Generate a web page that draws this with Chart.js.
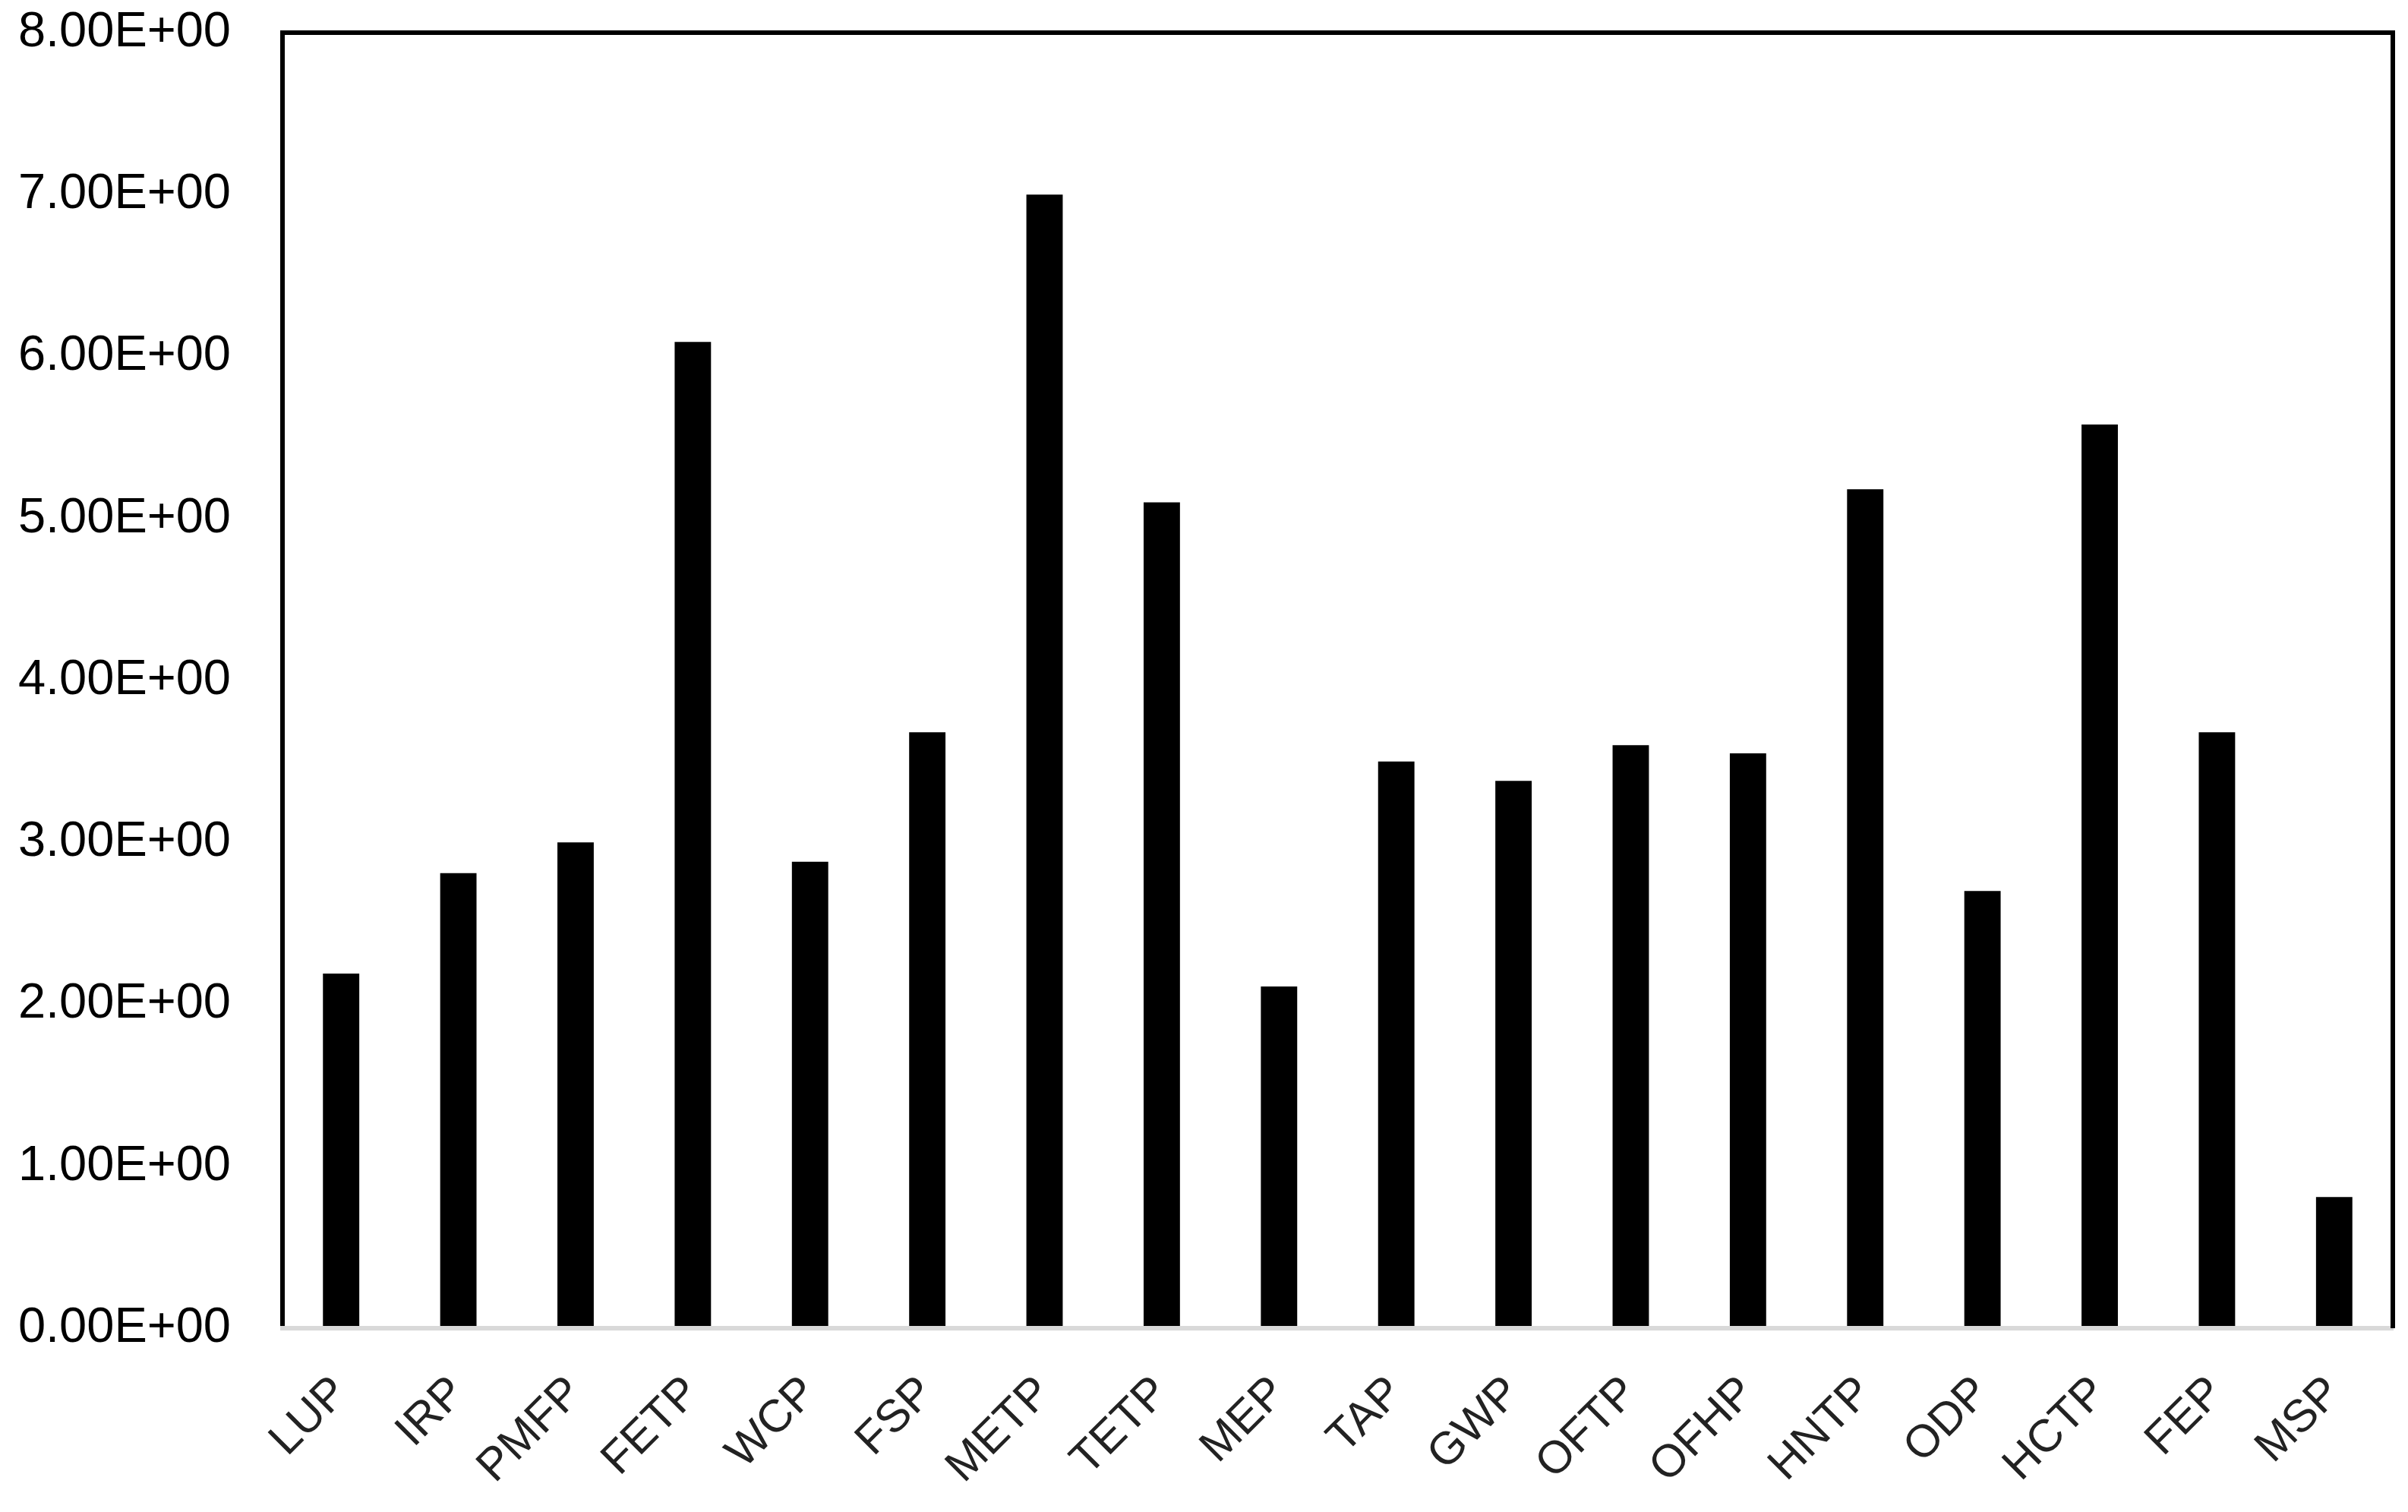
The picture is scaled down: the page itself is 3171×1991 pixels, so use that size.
<!DOCTYPE html>
<html>
<head>
<meta charset="utf-8">
<script src="https://cdn.jsdelivr.net/npm/chart.js@4.4.1/dist/chart.umd.min.js"></script>
<style>
  html, body { margin: 0; padding: 0; background: #fff; }
  #wrap { width: 3171px; height: 1991px; position: relative; }
</style>
</head>
<body>
<div id="wrap"><canvas id="chart"></canvas></div>
<script>
const categories = [
  'LUP', 'IRP', 'PMFP', 'FETP', 'WCP', 'FSP', 'METP', 'TETP', 'MEP',
  'TAP', 'GWP', 'OFTP', 'OFHP', 'HNTP', 'ODP', 'HCTP', 'FEP', 'MSP',
];
const values = [
  2.19, 2.81, 3.00, 6.09, 2.88, 3.68, 7.00, 5.10, 2.11,
  3.50, 3.38, 3.60, 3.55, 5.18, 2.70, 5.58, 3.68, 0.81,
];
const yTickLabels = [
  '0.00E+00', '1.00E+00', '2.00E+00', '3.00E+00', '4.00E+00',
  '5.00E+00', '6.00E+00', '7.00E+00', '8.00E+00',
];

const FONT = '"Liberation Sans", Arial, sans-serif';

// top and right edges of the plot frame
const framePlugin = {
  id: 'frame',
  afterDraw(chart) {
    const { ctx, chartArea: a } = chart;
    ctx.save();
    ctx.strokeStyle = '#000';
    ctx.lineWidth = 6;
    ctx.beginPath();
    ctx.moveTo(a.left - 3, a.top);
    ctx.lineTo(a.right, a.top);
    ctx.lineTo(a.right, a.bottom);
    ctx.stroke();
    ctx.restore();
  },
};

new Chart(document.getElementById('chart'), {
  type: 'bar',
  data: {
    labels: categories,
    datasets: [
      {
        data: values,
        backgroundColor: '#000',
        borderWidth: 0,
        barPercentage: 0.31,
        categoryPercentage: 1,
      },
    ],
  },
  options: {
    responsive: true,
    maintainAspectRatio: false,
    devicePixelRatio: 1,
    animation: false,
    layout: { padding: { top: 43, right: 20, left: 0, bottom: 0 } },
    plugins: {
      legend: { display: false },
      tooltip: { enabled: false },
    },
    scales: {
      x: {
        grid: { display: false, drawTicks: false },
        border: { display: true, color: '#d9d9d9', width: 6, z: 1 },
        ticks: {
          color: '#222',
          font: { family: FONT, size: 60 },
          minRotation: 45,
          maxRotation: 45,
          padding: 50,
          autoSkip: false,
        },
        afterFit(scale) {
          scale.height = 242;
          scale.paddingLeft = 0;
          scale.paddingRight = 0;
        },
      },
      y: {
        min: 0,
        max: 8,
        grid: { display: false, drawTicks: false },
        border: { display: true, color: '#000', width: 6 },
        ticks: {
          stepSize: 1,
          color: '#000',
          padding: 68,
          font: { family: FONT, size: 65 },
          callback: (v, i) => yTickLabels[i],
        },
        afterFit(scale) {
          scale.width = 372;
          scale.paddingTop = 0;
          scale.paddingBottom = 0;
        },
      },
    },
  },
  plugins: [framePlugin],
});
</script>
</body>
</html>
